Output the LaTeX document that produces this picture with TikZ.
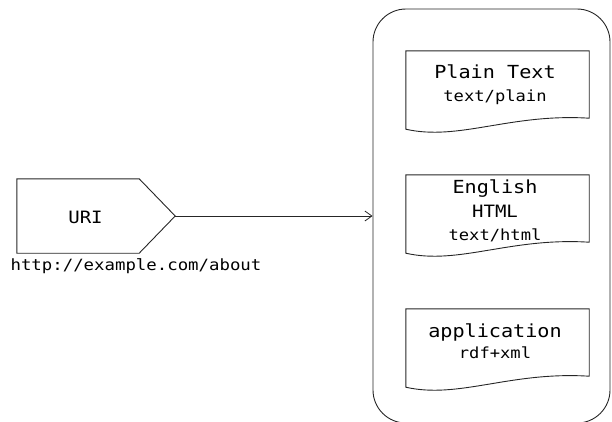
\documentclass[tikz,border=0pt]{standalone}
\usepackage{fontspec}
\newfontfamily\monofam[FakeStretch=1.12]{DejaVu Sans Mono}
\usetikzlibrary{arrows.meta,calc}

% wavy-bottomed document outline around a named rectangle node
\newcommand\docoutline[1]{%
  \draw[outline] (#1.north west) -- (#1.south west)
    .. controls ($(#1.south west)+(53,12)$) and ($(#1.south east)+(-79,-16)$)
    .. ($(#1.south east)+(0,-11)$) -- (#1.north east) -- cycle;}

\begin{document}
\begin{tikzpicture}[x=1pt,y=-1pt,
  outline/.style={draw=black!85, line width=0.9pt},
  docbox/.style={rectangle, inner sep=0pt, minimum width=183pt, minimum height=78pt},
  bigtxt/.style={anchor=base, inner sep=0pt, font=\monofam\fontsize{18}{20}\selectfont},
  smalltxt/.style={anchor=base, inner sep=0pt, font=\monofam\fontsize{15.3}{17}\selectfont},
  urltxt/.style={anchor=base, inner sep=0pt, font=\monofam\fontsize{15.5}{18}\selectfont}]
\useasboundingbox (0,0) rectangle (612,421);

% source resource: a pentagon pointing right
\node[rectangle, inner sep=0pt, minimum width=122pt, minimum height=74pt] (uribox) at (78,216) {};
\coordinate (uritip) at ($(uribox.east)+(36,0)$);
\draw[outline] (uribox.north west) -- (uribox.north east) -- (uritip)
  -- (uribox.south east) -- (uribox.south west) -- cycle;
\node[anchor=base, inner sep=0pt, font=\monofam\fontsize{17}{19}\selectfont] (uri) at (85.5,223) {URI};
\node[urltxt] (url) at (136,270) {http://example.com/about};

% container of representations
\node[rectangle, rounded corners=33pt, outline, inner sep=0pt,
      minimum width=237pt, minimum height=414pt] (res) at (491.5,216) {};

\draw[outline, line width=0.8pt, -{Straight Barb[length=7pt,width=10pt]}] (uritip) -- (res.west);

% representations
\node[docbox] (plain) at (497.5,90) {};
\docoutline{plain}
\node[bigtxt] (plain1) at (495,78) {Plain Text};
\node[smalltxt] (plain2) at (495,101) {text/plain};

\node[docbox] (html) at (497.5,214) {};
\docoutline{html}
\node[bigtxt] (html1) at (495,193) {English};
\node[anchor=base, inner sep=0pt, font=\monofam\fontsize{17}{19}\selectfont] (html2) at (495,217) {HTML};
\node[smalltxt] (html3) at (495,240) {text/html};

\node[docbox] (rdf) at (497.5,348) {};
\docoutline{rdf}
\node[bigtxt] (rdf1) at (495,337) {application};
\node[smalltxt] (rdf2) at (495,358) {rdf+xml};
\end{tikzpicture}
\end{document}
